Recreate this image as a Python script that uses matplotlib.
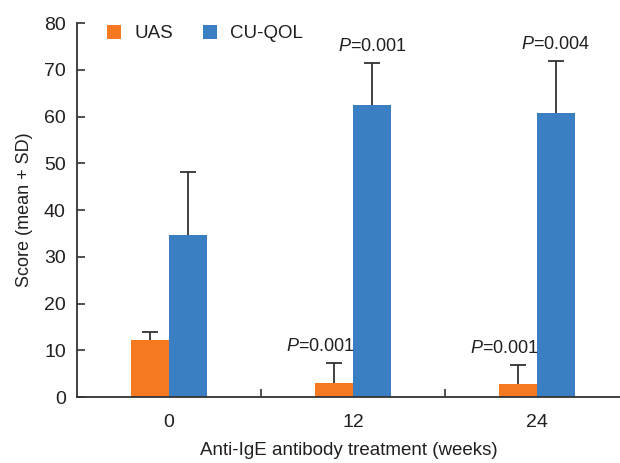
import matplotlib
matplotlib.use("Agg")
import matplotlib.pyplot as plt
import numpy as np

categories = ["0", "12", "24"]
uas_mean = [12.2, 3.1, 2.8]
uas_sd = [1.8, 4.2, 4.0]
cuqol_mean = [34.7, 62.5, 60.7]
cuqol_sd = [13.4, 8.9, 11.2]
uas_p = [None, "0.001", "0.001"]
cuqol_p = [None, "0.001", "0.004"]

fam = ['Liberation Sans', 'DejaVu Sans']
plt.rcParams['font.family'] = fam
plt.rcParams['mathtext.fontset'] = 'custom'
plt.rcParams['mathtext.it'] = 'Liberation Sans:italic'
plt.rcParams['mathtext.rm'] = 'Liberation Sans'

orange = "#F47920"
blue = "#3A7FC2"
txt = "#231F20"
ecol = "#333333"

fig = plt.figure(figsize=(6.2, 4.63), dpi=100)
ax = fig.add_axes([0.124, 0.1425, 0.876, 0.8075])

x = np.arange(len(categories))
w = 0.205
ax.bar(x - w / 2, uas_mean, w, color=orange, label="UAS", zorder=2)
ax.bar(x + w / 2, cuqol_mean, w, color=blue, label="CU-QOL", zorder=2)

for xs, m, s in ((x - w / 2, uas_mean, uas_sd), (x + w / 2, cuqol_mean, cuqol_sd)):
    m = np.array(m); s = np.array(s)
    ax.vlines(xs, m, m + s, color=ecol, linewidth=1.3, zorder=3)
    ax.plot(xs, m + s, linestyle='none', marker='_', markersize=12,
            markeredgewidth=1.3, color=ecol, zorder=3)

for i in range(3):
    if uas_p[i]:
        ax.text(x[i] + 0.01, uas_mean[i] + uas_sd[i] + 1.7, r"$\it{P}$=" + uas_p[i],
                ha="right", va="bottom", fontsize=13, color=txt)
    if cuqol_p[i]:
        ax.text(x[i] + w / 2, cuqol_mean[i] + cuqol_sd[i] + 1.7, r"$\it{P}$=" + cuqol_p[i],
                ha="center", va="bottom", fontsize=13, color=txt)

ax.set_xlim(-0.5, 2.45)
ax.set_ylim(0, 80)
ax.set_yticks(np.arange(0, 81, 10))
ax.set_xticks(x)
ax.set_xticklabels(categories)
ax.set_xticks([0.5, 1.5], minor=True)
ax.tick_params(axis='x', which='major', length=0, pad=12, labelsize=14, colors=txt)
ax.tick_params(axis='x', which='minor', direction='in', length=6, width=1.2, color=ecol)
ax.tick_params(axis='y', direction='in', length=6, width=1.2, color=ecol,
               labelsize=14, pad=8, labelcolor=txt)

for s in ['top', 'right']:
    ax.spines[s].set_visible(False)
for s in ['left', 'bottom']:
    ax.spines[s].set_linewidth(1.3)
    ax.spines[s].set_color(ecol)

ax.set_ylabel("Score (mean + SD)", fontsize=13, color=txt, labelpad=8)
ax.set_xlabel("Anti-IgE antibody treatment (weeks)", fontsize=13.5, color=txt, labelpad=8)

ax.legend(loc="upper left", bbox_to_anchor=(0.025, 1.04), ncol=2, frameon=False,
          fontsize=13.5, handlelength=0.75, handleheight=0.75, columnspacing=1.6,
          handletextpad=0.7, labelcolor=txt)

fig.savefig("out.png", dpi=100)
